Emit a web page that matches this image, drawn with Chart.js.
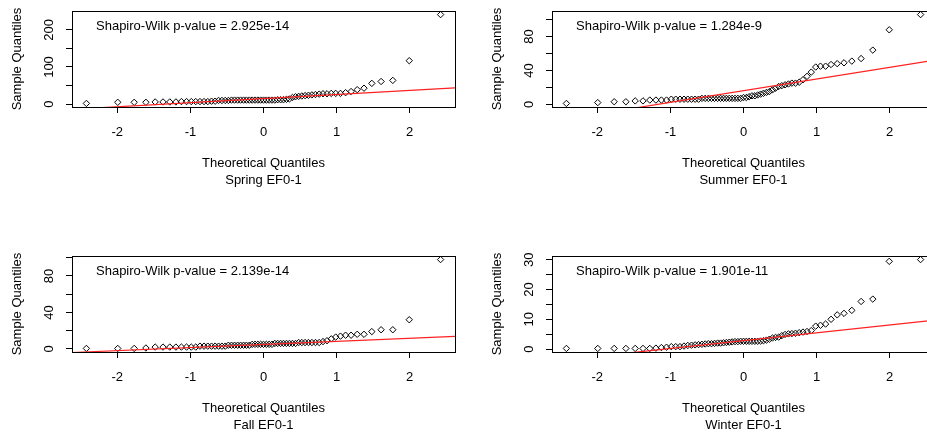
<!DOCTYPE html>
<html>
<head>
<meta charset="utf-8">
<script src="https://cdn.jsdelivr.net/npm/chart.js@4.4.1/dist/chart.umd.min.js"></script>
<style>
  html, body { margin: 0; padding: 0; background: #fff; width: 927px; height: 434px; overflow: hidden; position: relative; }
  canvas { position: absolute; }
</style>
</head>
<body>
<canvas id="spring" width="480" height="245" style="left:-16px;top:-28px"></canvas>
<canvas id="summer" width="480" height="245" style="left:464px;top:-28px"></canvas>
<canvas id="fall" width="480" height="245" style="left:-16px;top:217px"></canvas>
<canvas id="winter" width="480" height="245" style="left:464px;top:217px"></canvas>
<script>
// theoretical normal quantiles (65 points), same for each season
const theoQuantiles = [
  -2.423, -1.994, -1.769, -1.609, -1.482, -1.375, -1.282, -1.198, -1.123, -1.053,
  -0.988, -0.927, -0.869, -0.814, -0.762, -0.711, -0.662, -0.615, -0.569, -0.524,
  -0.481, -0.438, -0.396, -0.354, -0.314, -0.273, -0.234, -0.194, -0.155, -0.116,
  -0.077, -0.039, 0,
  0.039, 0.077, 0.116, 0.155, 0.194, 0.234, 0.273, 0.314, 0.354, 0.396,
  0.438, 0.481, 0.524, 0.569, 0.615, 0.662, 0.711, 0.762, 0.814, 0.869,
  0.927, 0.988, 1.053, 1.123, 1.198, 1.282, 1.375, 1.482, 1.609, 1.769,
  1.994, 2.423
];

// sorted sample values per season
const springValues = [
  2, 5, 5, 5, 6, 6, 6, 6, 7, 7, 7, 7, 7, 7, 7, 8, 8, 10, 10, 10,
  10, 11, 11, 11, 11, 11, 11, 11, 11, 11, 11, 11, 11, 11, 11, 11, 11, 12, 12, 12,
  13, 14, 18, 20, 21, 22, 23, 24, 25, 26, 27, 28, 28, 29, 29, 29, 31, 34, 39, 43,
  56, 61, 64, 117, 241
];
const summerValues = [
  1, 2, 3, 3, 4, 4, 5, 5, 5, 5, 6, 6, 6, 6, 6, 6, 6, 6, 7, 7,
  7, 7, 7, 7, 7, 7, 7, 7, 7, 7, 7, 7, 8, 8, 9, 10, 10, 11, 12, 13,
  14, 15, 17, 19, 21, 22, 23, 24, 25, 25, 26, 29, 33, 38, 44, 45, 45, 47, 48, 49,
  51, 54, 64, 88, 106
];
const fallValues = [
  0.5, 0.5, 0.5, 1, 2, 2, 2, 2, 2, 2, 2, 2, 3, 3, 3, 3, 3, 3, 3, 3,
  4, 4, 4, 4, 4, 4, 4, 4, 5, 5, 5, 5, 5, 5, 5, 5, 6, 6, 6, 6,
  6, 6, 6, 6, 7, 7, 7, 7, 7, 7, 7, 8, 9, 11, 13, 14, 15, 15, 16, 16,
  19, 21, 21, 32, 98
];
const winterValues = [
  0.2, 0.2, 0.2, 0.2, 0.2, 0.2, 0.2, 0.3, 0.5, 0.6, 0.8, 0.8, 0.8, 1.0, 1.2, 1.3, 1.4, 1.5, 1.6, 1.7,
  1.8, 1.8, 1.9, 2.0, 2.0, 2.1, 2.2, 2.3, 2.4, 2.5, 2.5, 2.6, 2.6, 2.6, 2.6, 2.6, 2.6, 2.6, 2.7, 2.8,
  3.0, 3.3, 3.7, 3.9, 4.0, 4.5, 4.9, 5.1, 5.2, 5.3, 5.5, 5.7, 5.9, 6.2, 7.7, 8.0, 8.4, 10.0, 11.5, 12.0,
  13.0, 16.0, 16.8, 29.5, 30.1
];

const panelIds = ['spring', 'summer', 'fall', 'winter'];
const panelTitles = ['Spring EF0-1', 'Summer EF0-1', 'Fall EF0-1', 'Winter EF0-1'];
const pValueLabels = [
  'Shapiro-Wilk p-value = 2.925e-14',
  'Shapiro-Wilk p-value = 1.284e-9',
  'Shapiro-Wilk p-value = 2.139e-14',
  'Shapiro-Wilk p-value = 1.901e-11'
];

// qqline (through the quartiles)
const lineIntercepts = [15, 16.1, 4.9, 2.82];
const lineSlopes = [11, 13.8, 3.38, 2.64];

const xLimits = [-2.62, 2.62];
const xTickValues = [-2, -1, 0, 1, 2];
const yLimits = [[-7.6, 250.6], [-3.2, 110.2], [-3.4, 101.9], [-1.0, 31.3]];
const yTickValues = [[0, 50, 100, 150, 200], [0, 20, 40, 60, 80, 100], [0, 20, 40, 60, 80, 100], [0, 5, 10, 15, 20, 25, 30]];
const yTickLabels = [[0, 100, 200], [0, 40, 80], [0, 40, 80], [0, 10, 20, 30]];

const FONT = '"Liberation Sans", Arial, sans-serif';
const FONT_SIZE = 13;
Chart.defaults.font.family = FONT;
Chart.defaults.font.size = FONT_SIZE;
Chart.defaults.color = '#000';

// box around plot region, rotated y labels, p-value note
const qqBox = {
  id: 'qqBox',
  afterDraw(chart, args, opts) {
    const ctx = chart.ctx;
    const a = chart.chartArea;
    const y = chart.scales.y;
    ctx.save();
    ctx.strokeStyle = '#000';
    ctx.lineWidth = 1;
    ctx.strokeRect(Math.round(a.left) + 0.5, Math.round(a.top) + 0.5,
      Math.round(a.right - a.left), Math.round(a.bottom - a.top));
    ctx.fillStyle = '#000';
    ctx.font = FONT_SIZE + 'px ' + FONT;
    ctx.textAlign = 'center';
    ctx.textBaseline = 'middle';
    opts.yLabels.forEach(v => {
      ctx.save();
      ctx.translate(a.left - 23, y.getPixelForValue(v));
      ctx.rotate(-Math.PI / 2);
      ctx.fillText(String(v), 0, 0);
      ctx.restore();
    });
    ctx.textAlign = 'left';
    ctx.fillText(opts.note, a.left + 24, a.top + 15);
    ctx.restore();
  }
};

function buildPanel(idx, values) {
  const points = theoQuantiles.map((q, i) => ({ x: q, y: values[i] }));
  const line = xLimits.map(x => ({ x: x, y: lineIntercepts[idx] + lineSlopes[idx] * x }));
  const tickGrid = { drawOnChartArea: false, drawTicks: true, tickLength: 6, color: '#000', lineWidth: 1 };

  new Chart(document.getElementById(panelIds[idx]), {
    type: 'scatter',
    data: {
      datasets: [
        { type: 'line', data: line, borderColor: '#ff2020', borderWidth: 1.2, pointRadius: 0, fill: false },
        { data: points, pointStyle: 'rectRot', pointRadius: 3.2, pointHoverRadius: 3.2,
          borderColor: '#000', backgroundColor: 'rgba(0,0,0,0)', borderWidth: 1 }
      ]
    },
    options: {
      responsive: false,
      animation: false,
      devicePixelRatio: 1,
      layout: { padding: { top: 39, right: 9, left: 0, bottom: 0 } },
      plugins: {
        legend: { display: false },
        tooltip: { enabled: false },
        qqBox: { yLabels: yTickLabels[idx], note: pValueLabels[idx] }
      },
      scales: {
        x: {
          type: 'linear', min: xLimits[0], max: xLimits[1],
          afterBuildTicks: s => { s.ticks = xTickValues.map(v => ({ value: v })); },
          afterFit: s => { s.height = 110; },
          grid: tickGrid,
          border: { display: false },
          ticks: { padding: 11.5, maxRotation: 0, autoSkip: false, callback: v => String(v) },
          title: {
            display: true, text: ['Theoretical Quantiles', panelTitles[idx]],
            font: { size: FONT_SIZE, lineHeight: 17 / FONT_SIZE }, padding: { top: 0, bottom: 28 }
          }
        },
        y: {
          type: 'linear', min: yLimits[idx][0], max: yLimits[idx][1],
          afterBuildTicks: s => { s.ticks = yTickValues[idx].map(v => ({ value: v })); },
          afterFit: s => { s.width = 88; },
          grid: tickGrid,
          border: { display: false },
          ticks: { display: false },
          title: {
            display: true, text: 'Sample Quantiles',
            font: { size: FONT_SIZE, lineHeight: 1.2 }, padding: { top: 25.2, bottom: 0 }
          }
        }
      }
    },
    plugins: [qqBox]
  });
}

buildPanel(0, springValues);
buildPanel(1, summerValues);
buildPanel(2, fallValues);
buildPanel(3, winterValues);
</script>
</body>
</html>
